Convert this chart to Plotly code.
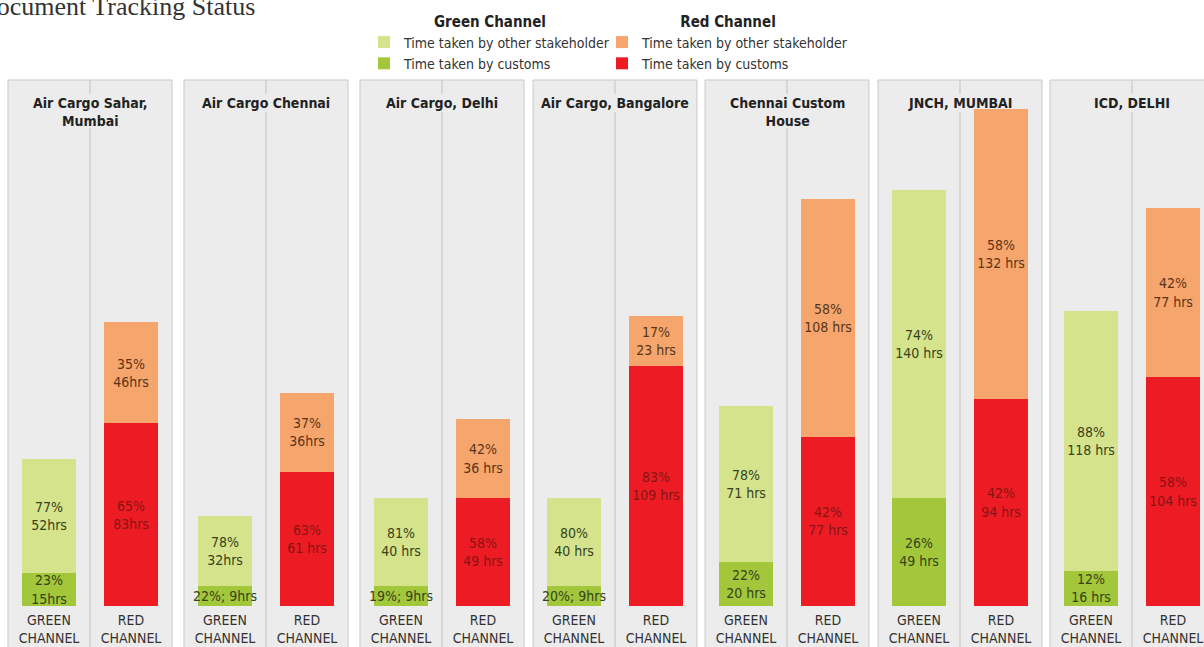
import plotly.graph_objects as go

# ---------------- data ----------------
ports = ["Air Cargo Sahar,<br>Mumbai", "Air Cargo Chennai", "Air Cargo, Delhi",
         "Air Cargo, Bangalore", "Chennai Custom<br>House", "JNCH, MUMBAI", "ICD, DELHI"]
channels = ["GREEN<br>CHANNEL", "RED<br>CHANNEL"]

green_customs_hrs = [15, 9, 9, 9, 20, 49, 16]
green_other_hrs = [52, 32, 40, 40, 71, 140, 118]
red_customs_hrs = [83, 61, 49, 109, 77, 94, 104]
red_other_hrs = [46, 36, 36, 23, 108, 132, 77]

green_customs_lbl = ["23%<br>15hrs", "22%; 9hrs", "19%; 9hrs", "20%; 9hrs",
                     "22%<br>20 hrs", "26%<br>49 hrs", "12%<br>16 hrs"]
green_other_lbl = ["77%<br>52hrs", "78%<br>32hrs", "81%<br>40 hrs", "80%<br>40 hrs",
                   "78%<br>71 hrs", "74%<br>140 hrs", "88%<br>118 hrs"]
red_customs_lbl = ["65%<br>83hrs", "63%<br>61 hrs", "58%<br>49 hrs", "83%<br>109 hrs",
                   "42%<br>77 hrs", "42%<br>94 hrs", "58%<br>104 hrs"]
red_other_lbl = ["35%<br>46hrs", "37%<br>36hrs", "42%<br>36 hrs", "17%<br>23 hrs",
                 "58%<br>108 hrs", "58%<br>132 hrs", "42%<br>77 hrs"]

legend_other = "Time taken by other stakeholder"
legend_customs = "Time taken by customs"

# ---------------- style / layout ----------------
W, H = 1204, 647
FONT = "Liberation Sans Narrow, DejaVu Sans Condensed, Arial Narrow, sans-serif"
C_GREEN_LIGHT = "#d5e38d"
C_GREEN_DARK = "#a2c73b"
C_ORANGE = "#f6a66c"
C_RED = "#ed1c24"
T_GREEN = "#37421a"
T_RED = "#861414"
T_ORANGE = "#5a3418"
PANEL_BG = "#ececec"
PANEL_LINE = "#c9c9c9"

panel_lefts = [8, 184, 360, 533, 705, 878, 1050]
panel_w = 164
panel_top = 80
baseline = 606
px_per_hr = 2.2

fig = go.Figure()

series = [
    (green_customs_hrs, green_customs_lbl, 0, C_GREEN_DARK, T_GREEN, legend_customs, "legend", 2),
    (green_other_hrs, green_other_lbl, 0, C_GREEN_LIGHT, T_GREEN, legend_other, "legend", 1),
    (red_customs_hrs, red_customs_lbl, 1, C_RED, T_RED, legend_customs, "legend2", 2),
    (red_other_hrs, red_other_lbl, 1, C_ORANGE, T_ORANGE, legend_other, "legend2", 1),
]

shapes = []
annotations = []
for i, port in enumerate(ports):
    n = "" if i == 0 else str(i + 1)
    left = panel_lefts[i]
    right = min(left + panel_w, W)
    visible = right - left
    for vals, lbls, ch, col, tcol, name, lg, rank in series:
        fig.add_trace(go.Bar(
            x=[channels[ch]], y=[vals[i]], text=[lbls[i]],
            textposition="inside", insidetextanchor="middle",
            textfont=dict(family=FONT, size=14, color=tcol),
            marker=dict(color=col, line=dict(width=0)),
            width=0.66, name=name, legend=lg, legendrank=rank,
            showlegend=(i == 0), hoverinfo="skip",
            xaxis="x" + n, yaxis="y" + n,
        ))
    fig.layout["xaxis" + n] = dict(
        domain=[left / W, right / W], type="category", anchor="y" + n,
        categoryorder="array", categoryarray=channels,
        range=[-0.5, -0.5 + 2 * visible / panel_w],
        showgrid=False, zeroline=False, showline=False, ticks="",
        ticklabelstandoff=4,
        tickfont=dict(family=FONT, size=14, color="#333333"),
        fixedrange=True,
    )
    fig.layout["yaxis" + n] = dict(
        domain=[(H - baseline) / H, (H - panel_top) / H],
        range=[0, (baseline - panel_top) / px_per_hr],
        visible=False, fixedrange=True, anchor="x" + n,
    )
    # panel background
    shapes.append(dict(type="rect", xref="paper", yref="paper",
                       x0=left / W, x1=(left + panel_w) / W, y0=-0.1, y1=(H - panel_top) / H,
                       fillcolor=PANEL_BG, line=dict(color=PANEL_LINE, width=1), layer="below"))
    # middle divider, interrupted behind the panel title
    mid = (left + panel_w / 2) / W
    title_bottom = 128 if "<br>" in port else 112
    shapes.append(dict(type="line", xref="paper", yref="paper",
                       x0=mid, x1=mid, y0=(H - panel_top) / H, y1=(H - 94) / H,
                       line=dict(color="#d0d0d0", width=1.5), layer="below"))
    shapes.append(dict(type="line", xref="paper", yref="paper",
                       x0=mid, x1=mid, y0=-0.1, y1=(H - title_bottom) / H,
                       line=dict(color="#d0d0d0", width=1.5), layer="below"))
    annotations.append(dict(text="<b>" + port + "</b>", xref="paper", yref="paper",
                            x=mid, y=(H - 94) / H, xanchor="center", yanchor="top",
                            showarrow=False, borderpad=0,
                            font=dict(family=FONT, size=14, color="#222222")))

annotations.append(dict(text="Document Tracking Status", xref="paper", yref="paper",
                        x=257 / W, y=(H - 7) / H, xanchor="right", yanchor="middle",
                        showarrow=False,
                        font=dict(family="Liberation Serif, serif", size=26, color="#333333")))

fig.update_layout(
    width=W, height=H, margin=dict(l=0, r=0, t=0, b=0),
    paper_bgcolor="white", plot_bgcolor="rgba(0,0,0,0)",
    barmode="stack",
    uniformtext=dict(minsize=14, mode="show"),
    shapes=shapes, annotations=annotations,
    legend=dict(x=364 / W, y=(H - 7) / H, xanchor="left", yanchor="top",
                traceorder="normal", bgcolor="rgba(0,0,0,0)",
                title=dict(text="<b>Green Channel</b>", side="top center",
                           font=dict(family=FONT, size=15, color="#222222")),
                font=dict(family=FONT, size=14, color="#333333"),
                itemclick=False, itemdoubleclick=False),
    legend2=dict(x=602 / W, y=(H - 7) / H, xanchor="left", yanchor="top",
                 traceorder="normal", bgcolor="rgba(0,0,0,0)",
                 title=dict(text="<b>Red Channel</b>", side="top center",
                            font=dict(family=FONT, size=15, color="#222222")),
                 font=dict(family=FONT, size=14, color="#333333"),
                 itemclick=False, itemdoubleclick=False),
    showlegend=True,
)

fig.write_html("out.html", config={"displayModeBar": False},
               post_script="document.body.style.margin='0';")
